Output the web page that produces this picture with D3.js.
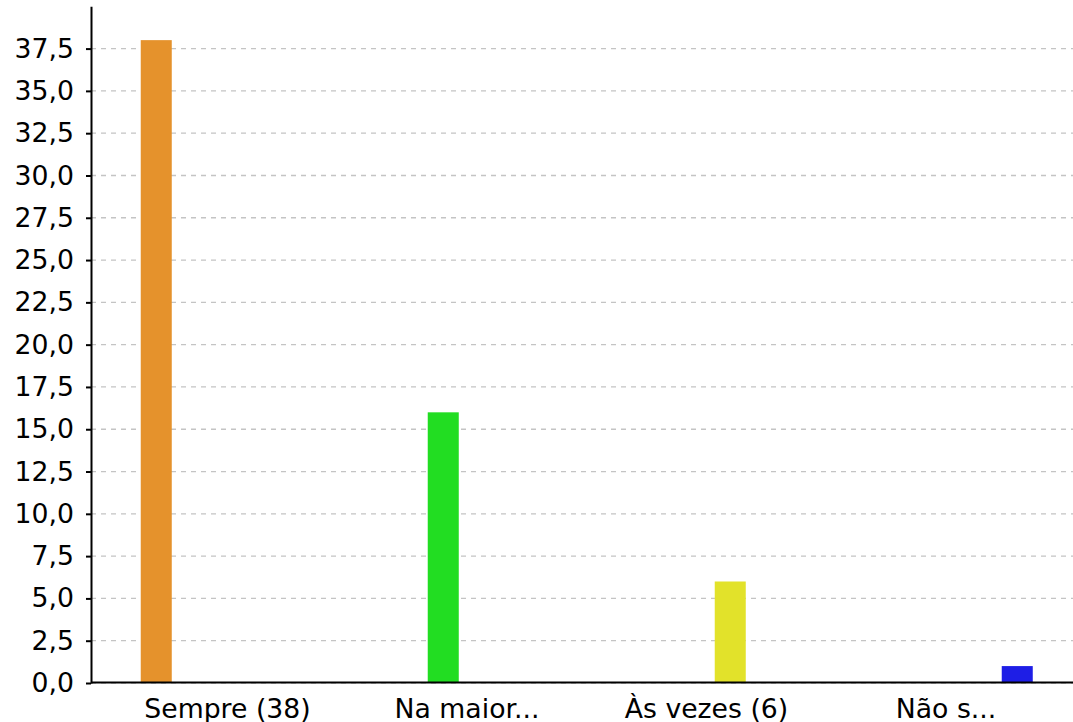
<!DOCTYPE html>
<html>
<head>
<meta charset="utf-8">
<script src="https://cdn.jsdelivr.net/npm/d3@7"></script>
<style>
  html, body { margin: 0; padding: 0; background: #fff; }
  svg { display: block; }
  text { font-family: "DejaVu Sans", sans-serif; fill: #000; }
</style>
</head>
<body>
<svg id="chart" width="1073" height="722"></svg>
<script>
const categories = ["Sempre (38)", "Na maior...", "Às vezes (6)", "Não s..."];
const series = ["Sempre", "Na maior parte das vezes", "Às vezes", "Não sei"];
const values = [
  [38, 0, 0, 0],
  [0, 16, 0, 0],
  [0, 0, 6, 0],
  [0, 0, 0, 1]
];
const colors = ["#e5922c", "#22dd22", "#e2e22a", "#1e1ee6"];
const yTicks = [0, 2.5, 5, 7.5, 10, 12.5, 15, 17.5, 20, 22.5, 25, 27.5, 30, 32.5, 35, 37.5];

const svg = d3.select("#chart");
const fontSize = 26.7;

const y = d3.scaleLinear().domain([0, 40]).range([683, 6.3]);
const x0 = d3.scaleBand().domain(categories).range([107.75, 1065.75]).padding(0);
const x1 = d3.scaleBand().domain(d3.range(series.length))
  .range([-95, 95]).paddingInner(0.347).paddingOuter(0.1735);

const plotLeft = 91, plotRight = 1073;

// grid lines
svg.append("g").selectAll("line").data(yTicks).join("line")
  .attr("x1", plotLeft).attr("x2", plotRight)
  .attr("y1", d => y(d)).attr("y2", d => y(d))
  .attr("stroke", "#c4c4c4").attr("stroke-width", 1.3)
  .attr("stroke-dasharray", "5,5");

// bars
const groups = svg.append("g").selectAll("g").data(categories).join("g")
  .attr("transform", c => `translate(${x0(c) + x0.bandwidth() / 2},0)`);
groups.selectAll("rect")
  .data((c, i) => values[i].map((v, s) => ({ v, s })).filter(d => d.v > 0))
  .join("rect")
  .attr("x", d => x1(d.s))
  .attr("width", x1.bandwidth())
  .attr("y", d => y(d.v))
  .attr("height", d => y(0) - y(d.v))
  .attr("fill", d => colors[d.s]);

// x axis line
svg.append("line")
  .attr("x1", plotLeft).attr("x2", plotRight)
  .attr("y1", y(0) - 0.5).attr("y2", y(0) - 0.5)
  .attr("stroke", "#000").attr("stroke-width", 2);

// y axis
const fmt = d => d3.format(".1f")(d).replace(".", ",");
const yAxis = d3.axisLeft(y).tickValues(yTicks).tickFormat(fmt)
  .tickSize(5).tickSizeOuter(0).tickPadding(12);
const ga = svg.append("g").attr("transform", `translate(${plotLeft},0)`).call(yAxis);
ga.select(".domain").attr("stroke", "#000").attr("stroke-width", 2);
ga.selectAll(".tick line").attr("stroke", "#000").attr("stroke-width", 2);
ga.selectAll(".tick text").attr("font-size", fontSize)
  .attr("font-family", "DejaVu Sans").attr("fill", "#000");

// x labels
svg.append("g").selectAll("text").data(categories).join("text")
  .attr("x", c => x0(c) + x0.bandwidth() / 2)
  .attr("y", 718)
  .attr("text-anchor", "middle")
  .attr("font-size", fontSize)
  .text(c => c);
</script>
</body>
</html>
